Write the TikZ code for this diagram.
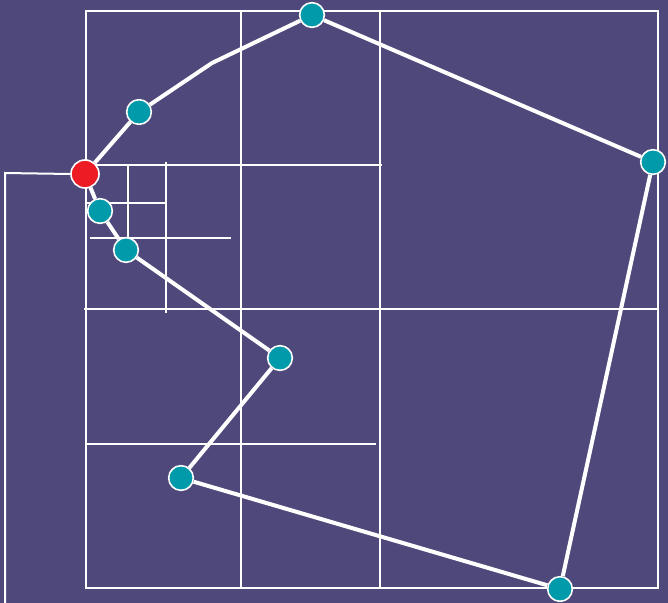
\documentclass[tikz,border=0pt]{standalone}
\usepackage{tikz}
\usetikzlibrary{positioning,calc}
\definecolor{BgPurple}{RGB}{78,73,122}
\definecolor{PtTeal}{RGB}{0,154,170}
\definecolor{PtRed}{RGB}{237,28,36}

\begin{document}
\begin{tikzpicture}[x=0.75pt,y=-0.75pt,
  grid/.style={white,line width=1.5pt},
  tour/.style={white,line width=3pt},
  pt/.style={circle,draw=white,line width=1.2pt,fill=PtTeal,minimum size=18.5pt,inner sep=0pt},
  start/.style={pt,fill=PtRed,minimum size=21pt}]
  \fill[BgPurple] (0,0) rectangle (668,603);
  \useasboundingbox (0,0) rectangle (668,603);
  % subdivision
  \draw[grid] (86,11) rectangle (658,588);
  \draw[grid] (241,11) -- (241,588);
  \draw[grid] (380,11) -- (380,588);
  \draw[grid] (84,309) -- (658,309);
  \draw[grid] (86,165) -- (382,165);
  \draw[grid] (86,444) -- (376,444);
  \draw[grid] (166,162) -- (166,313);
  \draw[grid] (90,238) -- (231,238);
  \draw[grid] (128,165) -- (128,238);
  \draw[grid] (86,203) -- (166,203);
  % points
  \node[start] (s) at (85,174) {};
  \node[pt] (p1) at (139,112) {};
  \coordinate (b1) at (212,63);
  \node[pt] (p2) at (312,15) {};
  \node[pt] (p3) at (653,162) {};
  \node[pt] (p4) at (560,589) {};
  \node[pt] (p5) at (181,478) {};
  \node[pt] (p6) at (280,358) {};
  \node[pt] (p7) at (126,250) {};
  \node[pt] (p8) at (100,211) {};
  \coordinate (c1) at (5,173);
  \coordinate (c2) at (5,603);
  % tour
  \draw[grid] (s.west) -- (c1) -- (c2);
  \draw[tour] (s) -- (p1) -- (b1) -- (p2) -- (p3) -- (p4) -- (p5) -- (p6) -- (p7) -- (p8) -- (s);
\end{tikzpicture}
\end{document}
